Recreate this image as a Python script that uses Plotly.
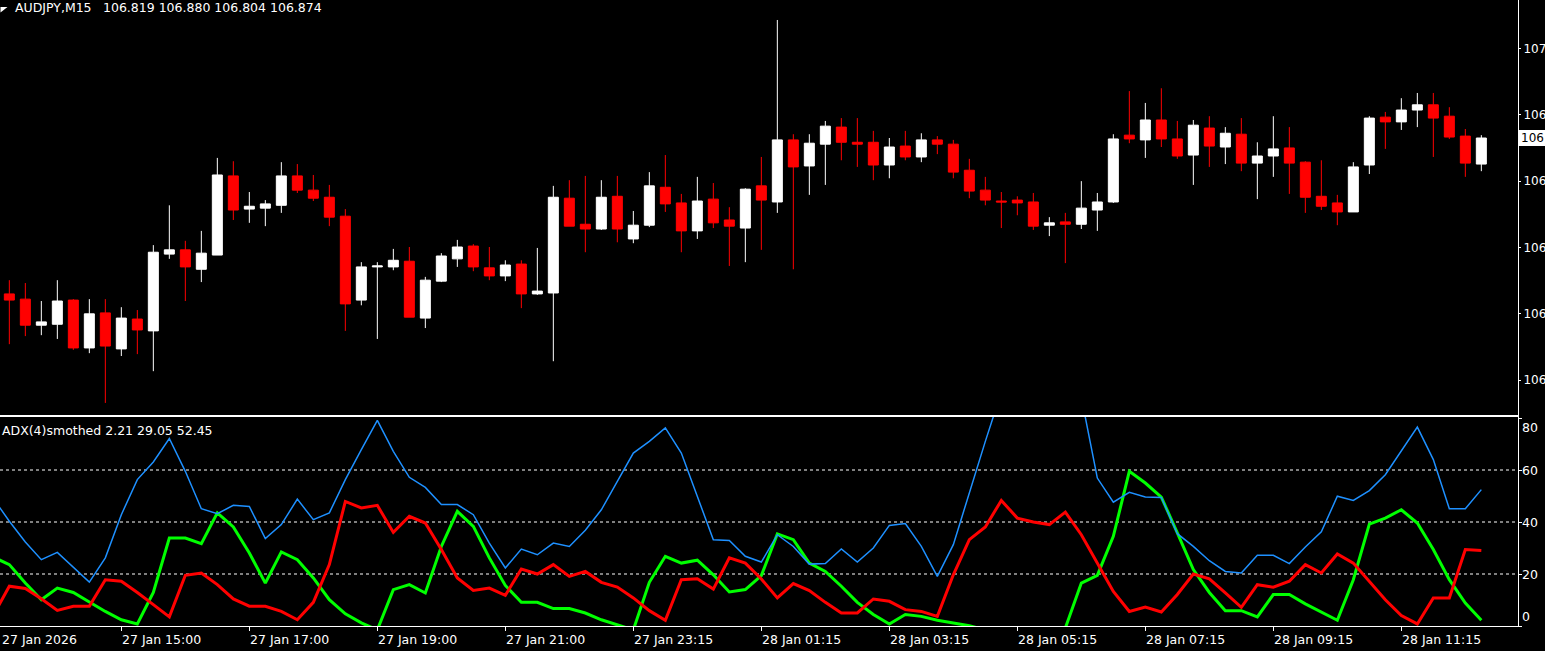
import plotly.graph_objects as go

# ---------------- data ----------------
opens = [106.545, 106.534, 106.479, 106.481, 106.532, 106.431, 106.505, 106.429, 106.492, 106.467,
         106.629, 106.638, 106.597, 106.627, 106.794, 106.724, 106.726, 106.732, 106.794, 106.764,
         106.749, 106.709, 106.532, 106.602, 106.602, 106.614, 106.494, 106.572, 106.619, 106.646,
         106.600, 106.583, 106.608, 106.545, 106.547, 106.747, 106.692, 106.682, 106.751, 106.661,
         106.690, 106.770, 106.737, 106.678, 106.745, 106.701, 106.684, 106.773, 106.739, 106.870,
         106.815, 106.861, 106.897, 106.865, 106.865, 106.817, 106.857, 106.834, 106.870, 106.861,
         106.806, 106.764, 106.741, 106.743, 106.739, 106.690, 106.697, 106.692, 106.722, 106.739,
         106.880, 106.870, 106.912, 106.872, 106.838, 106.895, 106.855, 106.882, 106.821, 106.836,
         106.853, 106.823, 106.751, 106.737, 106.718, 106.817, 106.918, 106.908, 106.933, 106.944,
         106.920, 106.878, 106.819]
highs = [106.574, 106.568, 106.530, 106.574, 106.534, 106.534, 106.534, 106.517, 106.511, 106.648,
         106.732, 106.657, 106.678, 106.832, 106.825, 106.760, 106.743, 106.823, 106.819, 106.796,
         106.775, 106.724, 106.612, 106.612, 106.640, 106.644, 106.581, 106.631, 106.659, 106.650,
         106.644, 106.616, 106.616, 106.642, 106.773, 106.785, 106.794, 106.785, 106.794, 106.720,
         106.802, 106.838, 106.756, 106.792, 106.779, 106.728, 106.768, 106.834, 107.123, 106.882,
         106.882, 106.910, 106.916, 106.916, 106.889, 106.874, 106.889, 106.884, 106.878, 106.870,
         106.830, 106.792, 106.760, 106.751, 106.758, 106.707, 106.716, 106.783, 106.758, 106.882,
         106.973, 106.948, 106.979, 106.910, 106.912, 106.920, 106.897, 106.916, 106.865, 106.920,
         106.897, 106.825, 106.827, 106.754, 106.823, 106.920, 106.929, 106.958, 106.969, 106.969,
         106.939, 106.893, 106.880]
lows = [106.439, 106.456, 106.458, 106.450, 106.427, 106.420, 106.315, 106.414, 106.418, 106.382,
        106.619, 106.530, 106.570, 106.627, 106.701, 106.695, 106.688, 106.716, 106.758, 106.741,
        106.688, 106.467, 106.521, 106.450, 106.595, 106.496, 106.473, 106.570, 106.602, 106.593,
        106.574, 106.572, 106.515, 106.543, 106.403, 106.688, 106.633, 106.680, 106.654, 106.652,
        106.686, 106.718, 106.633, 106.661, 106.684, 106.604, 106.612, 106.638, 106.716, 106.597,
        106.754, 106.775, 106.827, 106.813, 106.785, 106.789, 106.827, 106.823, 106.840, 106.789,
        106.747, 106.732, 106.684, 106.711, 106.680, 106.667, 106.610, 106.682, 106.678, 106.737,
        106.863, 106.832, 106.855, 106.830, 106.775, 106.813, 106.819, 106.804, 106.745, 106.792,
        106.756, 106.716, 106.722, 106.690, 106.718, 106.798, 106.851, 106.891, 106.897, 106.834,
        106.872, 106.792, 106.804]
closes = [106.532, 106.479, 106.486, 106.530, 106.431, 106.503, 106.435, 106.494, 106.469, 106.633,
          106.638, 106.602, 106.631, 106.796, 106.722, 106.730, 106.735, 106.794, 106.764, 106.747,
          106.707, 106.524, 106.602, 106.604, 106.616, 106.496, 106.574, 106.625, 106.644, 106.602,
          106.583, 106.606, 106.545, 106.551, 106.749, 106.688, 106.682, 106.749, 106.682, 106.690,
          106.773, 106.735, 106.678, 106.741, 106.695, 106.688, 106.766, 106.743, 106.870, 106.813,
          106.863, 106.899, 106.865, 106.861, 106.817, 106.855, 106.834, 106.870, 106.861, 106.802,
          106.762, 106.743, 106.739, 106.737, 106.688, 106.695, 106.692, 106.726, 106.739, 106.872,
          106.872, 106.912, 106.872, 106.836, 106.901, 106.857, 106.884, 106.821, 106.836, 106.851,
          106.821, 106.749, 106.730, 106.718, 106.813, 106.916, 106.908, 106.933, 106.944, 106.916,
          106.876, 106.821, 106.874]
bars = list(range(len(opens)))

# indicator (ADX smoothed) - one value per bar, starting one bar left of the first full candle
ind_bars = list(range(-1, len(opens)))
di_green = [26.5, 23.6, 16.5, 10.1, 14.6, 12.9, 9.2, 5.6, 2.4, 0.8, 12.9, 33.8, 33.8, 31.7, 43.5, 38.1,
            28.1, 16.5, 28.5, 25.5, 18.5, 10.1, 4.7, 1.2, -1.5, 14.0, 15.9, 12.7, 30.6, 44.1, 38.3,
            26.2, 15.6, 9.1, 9.1, 6.7, 6.7, 5.0, 2.4, 0.5, -1.5, 16.8, 26.8, 24.2, 25.3, 19.7, 13.1,
            14.0, 19.4, 35.4, 33.2, 24.2, 21.0, 15.3, 9.1, 4.4, 0.8, 4.4, 3.7, 2.2, 1.2, 0.1, -1.5,
            -2.5, -3.0, -3.0, -2.0, -0.8, 16.5, 19.5, 34.5, 59.5, 55.0, 49.6, 35.8, 21.7, 12.9, 5.9,
            5.9, 3.5, 12.1, 12.1, 8.5, 5.3, 2.2, 17.8, 39.2, 41.5, 44.7, 39.6, 29.4, 17.8, 8.8, 2.21]
di_red = [4.2, 15.3, 14.4, 10.5, 6.0, 7.6, 7.6, 17.8, 17.2, 12.9, 8.2, 3.5, 19.5, 20.4, 15.9, 10.4,
          7.6, 7.6, 5.6, 2.4, 9.1, 23.6, 47.9, 45.4, 46.4, 36.0, 42.2, 39.6, 29.4, 18.5, 13.7,
          14.6, 11.8, 21.9, 20.0, 23.6, 19.1, 21.0, 16.8, 15.0, 10.8, 5.9, 2.2, 17.8, 18.2, 14.2,
          26.2, 24.2, 18.1, 10.8, 16.3, 13.6, 9.1, 5.0, 5.0, 10.4, 9.5, 6.3, 5.6, 3.7, 19.7, 33.2,
          38.1, 48.3, 41.5, 40.0, 39.0, 43.8, 35.1, 24.2, 13.3, 5.6, 7.3, 5.4, 12.1, 20.0, 18.1,
          12.7, 7.2, 15.9, 14.9, 17.2, 23.6, 20.4, 27.7, 24.2, 17.2, 10.1, 4.0, 0.8, 10.8, 10.8,
          29.4, 29.05]
adx_blue = [49.0, 40.3, 32.3, 25.5, 28.3, 22.7, 16.9, 26.2, 42.8, 56.3, 63.1, 72.1, 59.5, 45.1, 43.2,
            46.4, 46.0, 33.6, 39.0, 48.8, 40.9, 43.5, 56.3, 67.8, 79.1, 67.2, 57.2, 53.3, 46.7, 46.7,
            42.8, 31.9, 22.3, 29.6, 27.4, 31.9, 30.6, 36.8, 44.7, 55.6, 66.5, 71.0, 76.2, 66.5, 49.9,
            33.2, 32.9, 26.8, 24.6, 35.1, 30.6, 23.8, 24.0, 29.6, 24.6, 30.0, 38.7, 39.4, 30.6, 19.1,
            31.3, 51.2, 71.0, 90.0, 96.0, 99.0, 97.0, 93.0, 88.0, 56.9, 47.6, 51.4, 49.6, 49.4, 35.5,
            30.6, 25.1, 21.0, 20.4, 27.2, 27.2, 24.0, 30.4, 36.2, 49.9, 48.3, 52.1, 58.2, 67.6, 76.5,
            64.0, 45.1, 45.1, 52.45]

time_tick_bars = [7, 15, 23, 31, 39, 47, 55, 63, 71, 79, 87]
time_tick_labels = ["27 Jan 15:00", "27 Jan 17:00", "27 Jan 19:00", "27 Jan 21:00", "27 Jan 23:15",
                    "28 Jan 01:15", "28 Jan 03:15", "28 Jan 05:15", "28 Jan 07:15", "28 Jan 09:15",
                    "28 Jan 11:15"]
first_date_label = "27 Jan 2026"
price_ticks = [107.063, 106.923, 106.783, 106.643, 106.503, 106.363]
# only the big figure of each price label fits in the visible strip of the right axis
price_tick_labels = ["107", "106", "106", "106", "106", "106"]
last_price_label = "106"
ind_levels = [20, 40, 60]
ind_ticks = [0, 20, 40, 60, 80]
ind_tick_labels = ["80", "60", "40", "20", "0"]
ind_tick_label_pos = [76.3, 60, 40, 20, 3.6]
symbol_text = "AUDJPY,M15"
ohlc_text = "106.819 106.880 106.804 106.874"
ind_title = "ADX(4)smothed 2.21 29.05 52.45"

# ---------------- geometry / style ----------------
W, H = 1545, 651
ML, MR, MT, MB = 0, 27, 0, 25
PW, PH = W - ML - MR, H - MT - MB
BAR_PX = 16.0
BAR0_PX = 9.33
MAIN_BOTTOM_PX = 414.7
IND_TOP_PX = 416.7
PRICE_TOP = 107.16518
PRICE_PER_PX = 0.00211
IND_MAX = 80.5

FONT = "DejaVu Sans"
FS = 12.5
AXFS = 12
WHITE = "#FFFFFF"

x_range = [(0 - BAR0_PX) / BAR_PX, (PW - BAR0_PX) / BAR_PX]
price_range = [PRICE_TOP - PRICE_PER_PX * MAIN_BOTTOM_PX, PRICE_TOP]
main_dom = [1 - MAIN_BOTTOM_PX / PH, 1.0]
ind_dom = [0.0, 1 - IND_TOP_PX / PH]


def px_to_py(ypx):
    return 1 - ypx / PH


def px_to_px_paper(xpx):
    return xpx / PW


def price_to_paper(p):
    frac = (p - price_range[0]) / (price_range[1] - price_range[0])
    return main_dom[0] + frac * (main_dom[1] - main_dom[0])


fig = go.Figure()

fig.add_trace(go.Candlestick(
    x=bars, open=opens, high=highs, low=lows, close=closes,
    increasing=dict(line=dict(color=WHITE, width=1), fillcolor=WHITE),
    decreasing=dict(line=dict(color="#FF0000", width=1), fillcolor="#FF0000"),
    whiskerwidth=0, xaxis="x", yaxis="y", showlegend=False, hoverinfo="skip",
))

fig.add_trace(go.Scatter(x=ind_bars, y=di_green, mode="lines", xaxis="x2", yaxis="y2",
                         line=dict(color="#00FF00", width=3), showlegend=False, hoverinfo="skip"))
fig.add_trace(go.Scatter(x=ind_bars, y=di_red, mode="lines", xaxis="x2", yaxis="y2",
                         line=dict(color="#FF0000", width=3), showlegend=False, hoverinfo="skip"))
fig.add_trace(go.Scatter(x=ind_bars, y=adx_blue, mode="lines", xaxis="x2", yaxis="y2",
                         line=dict(color="#1E90FF", width=1.5), showlegend=False, hoverinfo="skip"))

shapes = []
for lv in ind_levels:
    shapes.append(dict(type="line", xref="x2 domain", yref="y2", x0=0, x1=1, y0=lv, y1=lv,
                       line=dict(color=WHITE, width=1, dash="3px,3px"), layer="below"))

# small header triangle
shapes.append(dict(type="path", xref="paper", yref="paper",
                   path="M {0},{1} L {2},{1} L {0},{3} Z".format(
                       px_to_px_paper(0.5), px_to_py(7.0), px_to_px_paper(7.5), px_to_py(12.5)),
                   fillcolor=WHITE, line=dict(color=WHITE, width=0)))

# current price box on the right axis
last_close = closes[-1]
cy = price_to_paper(last_close)
half_h = 8.0 / PH
shapes.append(dict(type="rect", xref="paper", yref="paper",
                   x0=1.0, x1=(W - ML) / PW, y0=cy - half_h, y1=cy + half_h,
                   fillcolor=WHITE, line=dict(width=0), layer="above"))

annotations = []
annotations.append(dict(xref="paper", yref="paper", x=px_to_px_paper(13), y=px_to_py(7.5),
                        xanchor="left", yanchor="middle", showarrow=False, text=symbol_text,
                        font=dict(family=FONT, size=FS, color=WHITE)))
annotations.append(dict(xref="paper", yref="paper", x=px_to_px_paper(100.5), y=px_to_py(7.5),
                        xanchor="left", yanchor="middle", showarrow=False, text=ohlc_text,
                        font=dict(family=FONT, size=FS, color=WHITE)))
annotations.append(dict(xref="paper", yref="paper", x=0.0, y=px_to_py(430),
                        xanchor="left", yanchor="middle", showarrow=False, text=ind_title,
                        font=dict(family=FONT, size=FS, color=WHITE)))
annotations.append(dict(xref="paper", yref="paper", x=1.0, y=cy, xshift=1,
                        xanchor="left", yanchor="middle", showarrow=False,
                        text=last_price_label,
                        font=dict(family=FONT, size=AXFS, color="#000000")))
for lab, pos in zip(ind_tick_labels, ind_tick_label_pos):
    annotations.append(dict(xref="paper", yref="y2", x=1.0, y=pos, xshift=2,
                            xanchor="left", yanchor="middle", showarrow=False, text=lab,
                            font=dict(family=FONT, size=FS, color=WHITE)))
label_y = px_to_py(639.5)
for b, lab in zip(time_tick_bars, time_tick_labels):
    annotations.append(dict(xref="x2", yref="paper", x=b, y=label_y, xshift=-1,
                            xanchor="left", yanchor="middle", showarrow=False, text=lab,
                            font=dict(family=FONT, size=FS, color=WHITE)))
annotations.append(dict(xref="paper", yref="paper", x=0.0, y=label_y,
                        xanchor="left", yanchor="middle", showarrow=False, text=first_date_label,
                        font=dict(family=FONT, size=FS, color=WHITE)))

axis_common = dict(showgrid=False, zeroline=False, automargin=False, color=WHITE,
                   linecolor=WHITE, linewidth=1)

fig.update_layout(
    width=W, height=H,
    margin=dict(l=ML, r=MR, t=MT, b=MB, pad=0),
    paper_bgcolor="#000000", plot_bgcolor="#000000",
    template="none",
    boxgap=0.375, boxgroupgap=0,
    showlegend=False,
    xaxis=dict(domain=[0, 1], range=x_range, anchor="y", showline=True, mirror=False,
               showticklabels=False, ticks="", rangeslider=dict(visible=False), **axis_common),
    yaxis=dict(domain=main_dom, range=price_range, anchor="x", side="right", showline=True,
               tickvals=price_ticks, ticktext=price_tick_labels,
               ticks="outside", ticklen=2, tickcolor=WHITE, tickwidth=1,
               tickfont=dict(family=FONT, size=AXFS, color=WHITE), **axis_common),
    xaxis2=dict(domain=[0, 1], range=x_range, anchor="y2", showline=True, mirror=True,
                tickvals=time_tick_bars, showticklabels=False, ticks="outside", ticklen=4,
                tickcolor=WHITE, tickwidth=1, **axis_common),
    yaxis2=dict(domain=ind_dom, range=[0, IND_MAX], anchor="x2", side="right", showline=True,
                tickvals=ind_ticks, showticklabels=False, ticks="outside", ticklen=3,
                tickcolor=WHITE, tickwidth=1, **axis_common),
    shapes=shapes,
    annotations=annotations,
)

fig.write_html("out.html", config={"displayModeBar": False},
               post_script="document.body.style.margin='0px';document.body.style.background='#000000';")
